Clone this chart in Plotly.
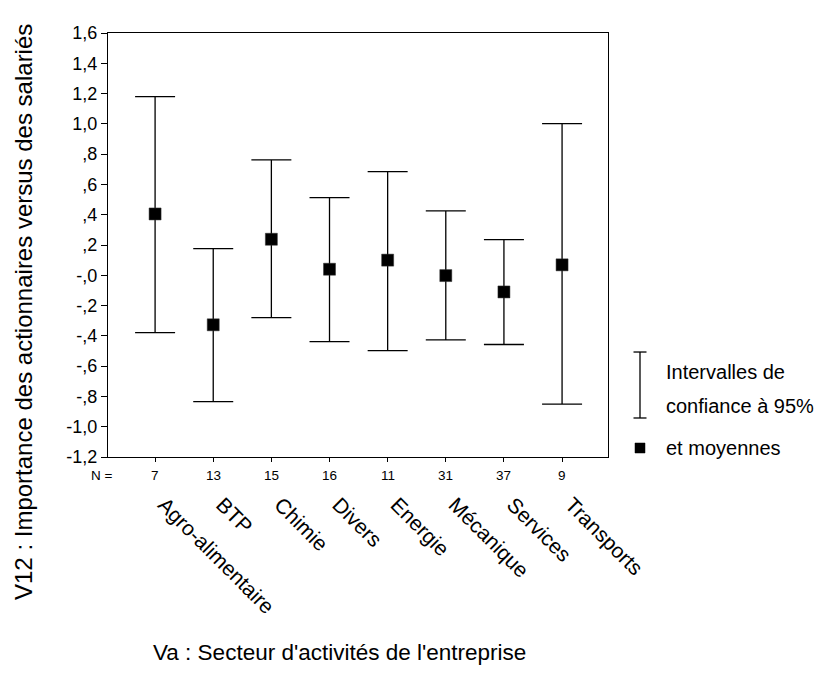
import plotly.graph_objects as go

categories = ["Agro-alimentaire", "BTP", "Chimie", "Divers", "Energie",
              "Mécanique", "Services", "Transports"]
n_values = [7, 13, 15, 16, 11, 31, 37, 9]
means = [0.405, -0.327, 0.238, 0.040, 0.100, -0.002, -0.110, 0.069]
upper = [1.180, 0.176, 0.762, 0.513, 0.685, 0.425, 0.236, 1.001]
lower = [-0.378, -0.834, -0.279, -0.438, -0.497, -0.426, -0.457, -0.851]

y_tickvals = [1.6, 1.4, 1.2, 1.0, 0.8, 0.6, 0.4, 0.2, 0.0, -0.2, -0.4, -0.6, -0.8, -1.0, -1.2]
y_ticktext = ["1,6", "1,4", "1,2", "1,0", ",8", ",6", ",4", ",2", "-,0", "-,2", "-,4",
              "-,6", "-,8", "-1,0", "-1,2"]

FONT = "Liberation Sans, Arial, sans-serif"
xs = list(range(len(categories)))

fig = go.Figure()
fig.add_trace(go.Scatter(
    x=xs, y=means, mode="markers",
    marker=dict(symbol="square", size=12, color="black",
                line=dict(color="#333333", width=0.5)),
    error_y=dict(type="data", symmetric=False,
                 array=[u - m for u, m in zip(upper, means)],
                 arrayminus=[m - l for m, l in zip(means, lower)],
                 color="black", thickness=1.3, width=20),
    showlegend=False, hoverinfo="skip",
))

fig.update_layout(
    width=823, height=675,
    margin=dict(l=100, r=223, t=25, b=226),
    paper_bgcolor="white", plot_bgcolor="white",
    font=dict(family=FONT, color="black"),
    showlegend=False,
)
fig.update_xaxes(
    range=[-0.81, 7.79], tickvals=xs, ticktext=categories, tickangle=45,
    tickfont=dict(size=21, family=FONT), ticks="outside", ticklen=4,
    tickcolor="black", showline=True, linecolor="black", linewidth=1.3,
    mirror=True, showgrid=False, zeroline=False,
    ticklabelstandoff=22, ticklabelshift=9,
)
fig.update_yaxes(
    range=[-1.2, 1.6], tickvals=y_tickvals, ticktext=y_ticktext,
    tickfont=dict(size=18, family=FONT), ticks="outside", ticklen=6,
    tickcolor="black", showline=True, linecolor="black", linewidth=1.3,
    mirror=True, showgrid=False, zeroline=False,
)

annotations = []
annotations.append(dict(text="N =", x=-0.012, xref="paper", y=-0.043, yref="paper",
                        showarrow=False, xanchor="center", yanchor="middle",
                        font=dict(size=13.5, family=FONT)))
for xi, n in zip(xs, n_values):
    annotations.append(dict(text=str(n), x=xi, xref="x", y=-0.043, yref="paper",
                            showarrow=False, xanchor="center", yanchor="middle",
                            font=dict(size=13.5, family=FONT)))
annotations.append(dict(text="Va : Secteur d'activités de l'entreprise",
                        x=0.462, xref="paper", y=-0.46, yref="paper",
                        showarrow=False, xanchor="center", yanchor="middle",
                        font=dict(size=22.5, family=FONT)))
annotations.append(dict(text="V12 : Importance des actionnaires versus des salariés",
                        x=-0.168, xref="paper", y=0.342, yref="paper", textangle=-90,
                        showarrow=False, xanchor="center", yanchor="middle",
                        font=dict(size=24, family=FONT)))
for txt, yy in [("Intervalles de", 0.2005), ("confiance à 95%", 0.120), ("et moyennes", 0.0212)]:
    annotations.append(dict(text=txt, x=1.112, xref="paper", y=yy, yref="paper",
                            showarrow=False, xanchor="left", yanchor="middle",
                            font=dict(size=20, family=FONT)))
fig.update_layout(annotations=annotations)

line = dict(color="black", width=1.3)
shapes = [
    dict(type="line", xref="paper", yref="paper", x0=1.064, x1=1.064, y0=0.092, y1=0.2476, line=line),
    dict(type="line", xref="paper", yref="paper", x0=1.051, x1=1.077, y0=0.2476, y1=0.2476, line=line),
    dict(type="line", xref="paper", yref="paper", x0=1.051, x1=1.077, y0=0.092, y1=0.092, line=line),
    dict(type="rect", xref="paper", yref="paper", x0=1.054, x1=1.074, y0=0.0094, y1=0.033,
         fillcolor="black", line=dict(color="black", width=0.5)),
]
fig.update_layout(shapes=shapes)

fig.write_html("out.html")
